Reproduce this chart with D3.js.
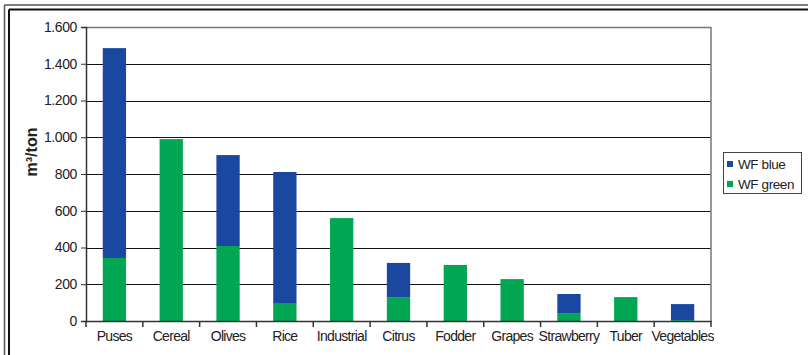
<!DOCTYPE html>
<html>
<head>
<meta charset="utf-8">
<script src="https://cdn.jsdelivr.net/npm/d3@7"></script>
<style>
  html, body { margin: 0; padding: 0; background: #fff; }
  svg { display: block; font-family: "Liberation Sans", Arial, Helvetica, sans-serif; }
</style>
</head>
<body>
<svg id="chart" width="808" height="355"></svg>
<script>
// Water footprint per crop group (m³/ton)
const categories = ["Puses", "Cereal", "Olives", "Rice", "Industrial", "Citrus", "Fodder", "Grapes", "Strawberry", "Tuber", "Vegetables"];
const wfGreen = [343, 990, 408, 98, 560, 130, 305, 228, 43, 130, 5];
const wfBlue  = [1142, 0, 495, 713, 0, 186, 0, 0, 104, 0, 87];
const seriesNames = ["WF blue", "WF green"];
const yTicks = [0, 200, 400, 600, 800, 1000, 1200, 1400, 1600];

const colors = { "WF blue": "#1a47a0", "WF green": "#00a651" };

const svg = d3.select("#chart");
const W = 808, H = 355;
const plot = { left: 86, right: 711, top: 27, bottom: 321 };

// outer double frame (top and left)
const frame = svg.append("g");
frame.append("line").attr("x1", 4.5).attr("x2", W).attr("y1", 5).attr("y2", 5)
  .attr("stroke", "#555").attr("stroke-width", 1.5);
frame.append("line").attr("x1", 4.5).attr("x2", 4.5).attr("y1", 5).attr("y2", H)
  .attr("stroke", "#555").attr("stroke-width", 1.5);
frame.append("line").attr("x1", 9).attr("x2", W).attr("y1", 9.5).attr("y2", 9.5)
  .attr("stroke", "#111").attr("stroke-width", 2);
frame.append("line").attr("x1", 9).attr("x2", 9).attr("y1", 9.5).attr("y2", H)
  .attr("stroke", "#111").attr("stroke-width", 2);

const x = d3.scaleBand().domain(categories).range([plot.left, plot.right]).paddingInner(0.59).paddingOuter(0.295);
const xOuter = d3.scaleBand().domain(categories).range([plot.left, plot.right]).padding(0);
const y = d3.scaleLinear().domain([0, 1600]).range([plot.bottom, plot.top]);

const fmt = v => d3.format(",")(v).replace(/,/g, ".");

// gridlines
svg.append("g").selectAll("line").data(yTicks.filter(t => t > 0 && t < 1600)).join("line")
  .attr("x1", plot.left).attr("x2", plot.right)
  .attr("y1", d => Math.round(y(d)) + 0.5).attr("y2", d => Math.round(y(d)) + 0.5)
  .attr("stroke", "#111").attr("stroke-width", 1);

// plot box top and right edges
svg.append("line").attr("x1", plot.left).attr("x2", plot.right).attr("y1", plot.top + 0.5).attr("y2", plot.top + 0.5)
  .attr("stroke", "#777").attr("stroke-width", 1.5);
svg.append("line").attr("x1", plot.right).attr("x2", plot.right).attr("y1", plot.top).attr("y2", plot.bottom)
  .attr("stroke", "#777").attr("stroke-width", 1.5);

// stacked bars
const rows = categories.map((c, i) => ({ cat: c, "WF green": wfGreen[i], "WF blue": wfBlue[i] }));
const stack = d3.stack().keys(["WF green", "WF blue"])(rows);
svg.append("g").selectAll("g").data(stack).join("g")
  .attr("fill", d => colors[d.key])
  .selectAll("rect").data(d => d).join("rect")
  .attr("x", d => x(d.data.cat))
  .attr("width", x.bandwidth())
  .attr("y", d => y(d[1]))
  .attr("height", d => y(d[0]) - y(d[1]));

// y axis
const yAxis = svg.append("g").attr("transform", `translate(${plot.left},0)`)
  .call(d3.axisLeft(y).tickValues(yTicks).tickFormat(fmt).tickSize(5).tickPadding(4));
yAxis.select(".domain").attr("stroke", "#333").attr("stroke-width", 1.5);
yAxis.selectAll(".tick line").attr("stroke", "#333");
yAxis.selectAll("text").attr("font-size", 14).attr("letter-spacing", -0.4).attr("fill", "#222");

// x axis with ticks at band boundaries
const xAxis = svg.append("g").attr("transform", `translate(0,${plot.bottom})`)
  .call(d3.axisBottom(x).tickSize(0).tickPadding(10));
xAxis.select(".domain").attr("stroke", "#333").attr("stroke-width", 1.5);
xAxis.selectAll("text").attr("font-size", 14).attr("letter-spacing", -0.7).attr("fill", "#222");
const bounds = categories.map(c => xOuter(c)).concat([plot.right]);
svg.append("g").selectAll("line").data(bounds).join("line")
  .attr("x1", d => d).attr("x2", d => d)
  .attr("y1", plot.bottom).attr("y2", plot.bottom + 6)
  .attr("stroke", "#333").attr("stroke-width", 1.5);

// y axis title
svg.append("text")
  .attr("transform", "translate(37,152) rotate(-90)")
  .attr("text-anchor", "middle")
  .attr("font-size", 16).attr("font-weight", "bold").attr("fill", "#222")
  .text("m³/ton");

// legend
const lg = svg.append("g").attr("transform", "translate(723,152)");
lg.append("rect").attr("x", 0.5).attr("y", 0.5).attr("width", 78).attr("height", 41)
  .attr("fill", "#fff").attr("stroke", "#444").attr("stroke-width", 1);
seriesNames.forEach((s, i) => {
  lg.append("rect").attr("x", 4).attr("y", 9 + i * 20).attr("width", 6).attr("height", 6).attr("fill", colors[s]);
  lg.append("text").attr("x", 15).attr("y", 17 + i * 20).attr("font-size", 13.5)
    .attr("letter-spacing", -0.4).attr("fill", "#222").text(s);
});
</script>
</body>
</html>
